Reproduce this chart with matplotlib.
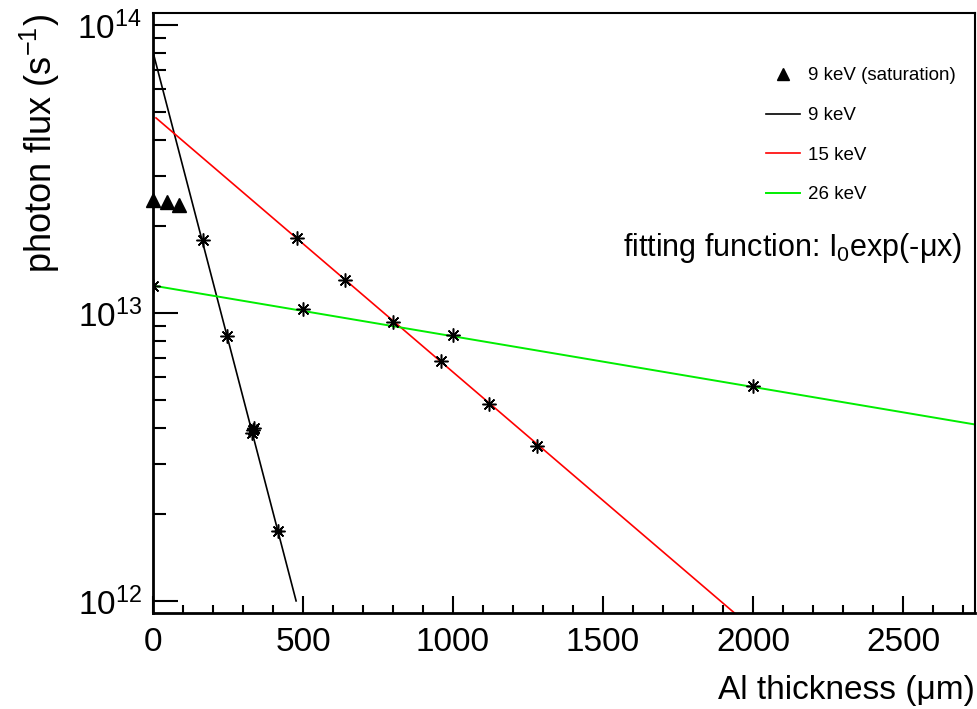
import matplotlib
matplotlib.use("Agg")
import matplotlib.pyplot as plt
from matplotlib.lines import Line2D
from matplotlib.ticker import FixedLocator, NullFormatter, LogLocator, FixedFormatter

plt.rcParams['font.family'] = ['Liberation Sans', 'DejaVu Sans']
plt.rcParams['mathtext.fontset'] = 'custom'
plt.rcParams['mathtext.rm'] = 'Liberation Sans'
plt.rcParams['mathtext.it'] = 'Liberation Sans:italic'
plt.rcParams['mathtext.bf'] = 'Liberation Sans:bold'

# ---- data ----
sat_x = [0, 45, 85]
sat_y = [2.47e13, 2.42e13, 2.38e13]

k9_x = [165, 248, 330, 333, 336, 415]
k9_y = [1.80e13, 8.3e12, 3.82e12, 3.92e12, 4.0e12, 1.75e12]
k9_xerr = [0, 0, 8, 8, 8, 10]

k15_x = [480, 640, 800, 960, 1120, 1280]
k15_y = [1.82e13, 1.30e13, 9.3e12, 6.8e12, 4.83e12, 3.45e12]

k26_x = [0, 500, 1000, 2000]
k26_y = [1.245e13, 1.03e13, 8.4e12, 5.56e12]

fit9_x = [0, 477]
fit9_y = [8.06e13, 1.0e12]
fit15_x = [10, 2740]
fit15_y = [4.76e13, 1.75e11]
fit26_x = [0, 2740]
fit26_y = [1.245e13, 4.1e12]

legend_labels = ["9 keV (saturation)", "9 keV", "15 keV", "26 keV"]
x_ticks = [0, 500, 1000, 1500, 2000, 2500]
y_ticks = [1e12, 1e13, 1e14]
y_ticklabels = [r"$\mathregular{10^{12}}$", r"$\mathregular{10^{13}}$", r"$\mathregular{10^{14}}$"]

W, H = 978, 709
fig = plt.figure(figsize=(W / 100, H / 100), dpi=100)
ax = fig.add_axes([153 / W, 1 - 613 / H, (975 - 153) / W, (613 - 13) / H])
ax.set_yscale('log')
ax.set_xlim(0, 2740)
ax.set_ylim(10 ** 11.958, 10 ** 14.042)

ast = (8, 2, 0)
ax.plot(fit9_x, fit9_y, color='black', lw=1.2)
ax.plot(fit15_x, fit15_y, color='#ff0000', lw=1.2)
ax.plot(fit26_x, fit26_y, color='#00ee00', lw=1.4)

ax.errorbar(k9_x, k9_y, xerr=k9_xerr, fmt='none', ecolor='black', elinewidth=1, capsize=3)
ax.plot(k9_x, k9_y, ls='none', marker=ast, ms=10, mec='black', mew=1.1)
ax.plot(k15_x, k15_y, ls='none', marker=ast, ms=10, mec='black', mew=1.1)
ax.plot(k26_x, k26_y, ls='none', marker=ast, ms=10, mec='black', mew=1.1)
ax.plot(sat_x, sat_y, ls='none', marker='^', ms=10, color='black', clip_on=False)

# axes styling
for s in ax.spines.values():
    s.set_linewidth(1.5)
ax.spines['left'].set_linewidth(2)
ax.spines['bottom'].set_linewidth(2)

ax.xaxis.set_major_locator(FixedLocator(x_ticks))
ax.xaxis.set_minor_locator(FixedLocator(list(range(0, 2741, 100))))
ax.yaxis.set_major_locator(FixedLocator(y_ticks))
ax.yaxis.set_major_formatter(FixedFormatter(y_ticklabels))
ax.yaxis.set_minor_locator(LogLocator(base=10, subs=range(2, 10)))
ax.yaxis.set_minor_formatter(NullFormatter())
ax.tick_params(axis='both', which='both', direction='in', top=False, right=False,
               labelsize=24, width=1.5, color='black')
ax.tick_params(axis='y', which='major', length=18, pad=8)
ax.tick_params(axis='y', which='minor', length=9)
ax.tick_params(axis='x', which='major', length=12, pad=10)
ax.tick_params(axis='x', which='minor', length=6)

fig.text(975 / W, 1 - 690 / H, "Al thickness (μm)", ha='right', va='center', fontsize=24)
fig.text(40 / W, 1 - 14 / H, r"photon flux (s$^{\mathregular{-1}}$)", rotation=90,
         ha='center', va='top', fontsize=26)

ax.text(962 / W, 1 - 248 / H, r"fitting function: I$_{\mathregular{0}}$exp(-μx)",
        transform=fig.transFigure, ha='right', va='center', fontsize=22)

handles = [
    Line2D([], [], ls='none', marker='^', ms=9, color='black'),
    Line2D([], [], color='black', lw=1.2),
    Line2D([], [], color='#ff0000', lw=1.2),
    Line2D([], [], color='#00ee00', lw=1.4),
]
leg = ax.legend(handles, legend_labels, loc='upper left', bbox_to_anchor=(757 / W, 1 - 58 / H),
                bbox_transform=fig.transFigure, frameon=False, fontsize=13.5,
                handlelength=1.8, handletextpad=0.43, labelspacing=1.2, borderpad=0)

fig.savefig("out.png", dpi=100)
